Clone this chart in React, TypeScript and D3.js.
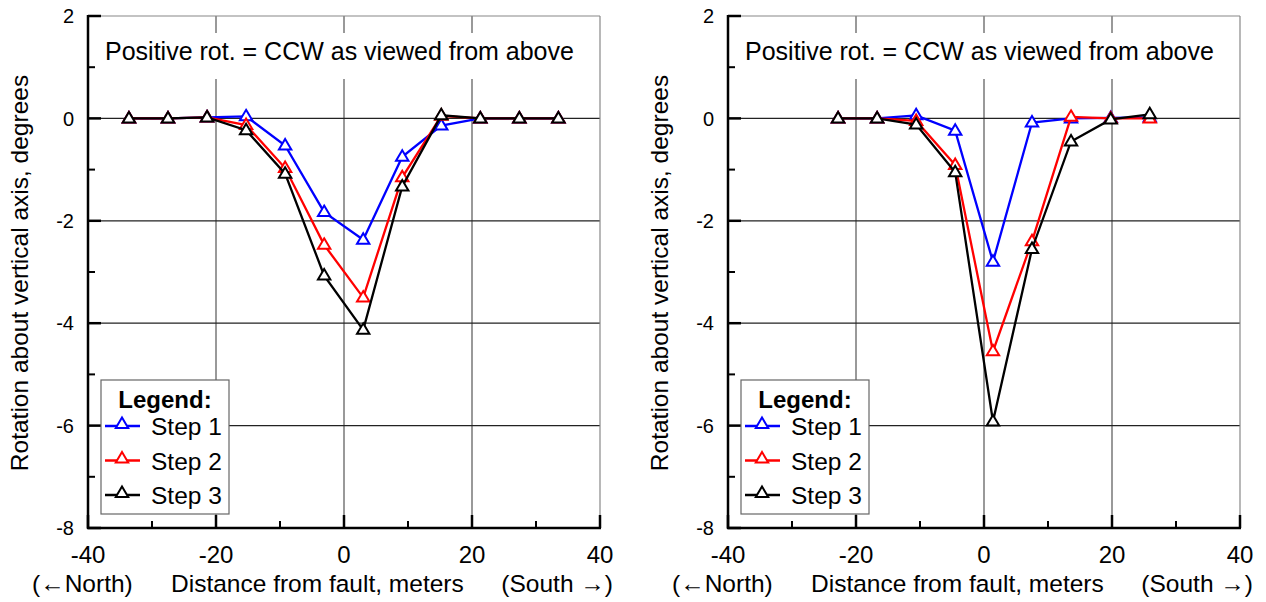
import React from 'react';
import * as d3 from 'd3';

// left panel
const xLeft = [-33.6, -27.5, -21.4, -15.3, -9.2, -3.1, 3.0, 9.1, 15.2, 21.3, 27.4, 33.5];
const leftStep1 = [0, 0, 0.02, 0.04, -0.53, -1.83, -2.37, -0.75, -0.14, 0, 0, 0];
const leftStep2 = [0, 0, 0.02, -0.13, -0.97, -2.47, -3.5, -1.15, 0.05, 0, 0, 0];
const leftStep3 = [0, 0, 0.02, -0.23, -1.08, -3.07, -4.13, -1.33, 0.06, 0, 0, 0];

// right panel
const xRight = [-22.8, -16.7, -10.6, -4.5, 1.4, 7.5, 13.6, 19.8, 25.9];
const rightStep1 = [0, 0, 0.06, -0.24, -2.8, -0.08, 0, 0.01, 0.02];
const rightStep2 = [0, 0, -0.05, -0.91, -4.55, -2.4, 0.03, 0, 0];
const rightStep3 = [0, 0, -0.12, -1.05, -5.92, -2.55, -0.45, -0.02, 0.08];

const seriesNames = ['Step 1', 'Step 2', 'Step 3'];
const seriesColors = ['#0000ff', '#ff0000', '#000000'];

const xTicks = [-40, -20, 0, 20, 40];
const yTicks = [2, 0, -2, -4, -6, -8];

const FONT = '"Liberation Sans", Arial, sans-serif';
const W = 512;
const H = 512;

const tri = 'M0,-6.5L6.2,4L-6.2,4Z';

const Panel = ({ ox, xs, series }) => {
  const x = d3.scaleLinear().domain([-40, 40]).range([0, W]);
  const y = d3.scaleLinear().domain([-8, 2]).range([H, 0]);
  const line = d3
    .line()
    .x((d) => x(d[0]))
    .y((d) => y(d[1]));
  const minorX = d3.range(-30, 40, 20);
  const minorY = d3.range(-7, 2, 2);

  return (
    <g transform={`translate(${ox},16)`}>
      {/* grid */}
      {[-20, 0, 20].map((t) => (
        <line key={'gx' + t} x1={x(t)} x2={x(t)} y1={0} y2={H} stroke="#555" strokeWidth="1.2" />
      ))}
      {[0, -2, -4, -6].map((t) => (
        <line key={'gy' + t} x1={0} x2={W} y1={y(t)} y2={y(t)} stroke="#222" strokeWidth="1.2" />
      ))}
      {/* note box */}
      <rect x={12} y={17} width={486} height={46} fill="#fff" />
      <text x={17} y={44} fontSize="25" fontFamily={FONT}>
        Positive rot. = CCW as viewed from above
      </text>
      {/* frame */}
      <line x1={0} x2={W} y1={0} y2={0} stroke="#888" strokeWidth="1.2" />
      <line x1={W} x2={W} y1={0} y2={H} stroke="#888" strokeWidth="1.2" />
      <line x1={0} x2={0} y1={-1} y2={H + 1} stroke="#000" strokeWidth="2.5" />
      <line x1={-1} x2={W + 1} y1={H} y2={H} stroke="#000" strokeWidth="2.5" />
      {/* ticks */}
      {yTicks.map((t) => (
        <line key={'ty' + t} x1={0} x2={13} y1={y(t)} y2={y(t)} stroke="#000" strokeWidth="2.5" />
      ))}
      {minorY.map((t) => (
        <line key={'my' + t} x1={0} x2={7} y1={y(t)} y2={y(t)} stroke="#000" strokeWidth="2" />
      ))}
      {xTicks.map((t) => (
        <line key={'tx' + t} x1={x(t)} x2={x(t)} y1={H} y2={H - 13} stroke="#000" strokeWidth="2.5" />
      ))}
      {minorX.map((t) => (
        <line key={'mx' + t} x1={x(t)} x2={x(t)} y1={H} y2={H - 7} stroke="#000" strokeWidth="2" />
      ))}
      {/* tick labels */}
      {yTicks.map((t) => (
        <text key={'ly' + t} x={-14} y={y(t)} dy="0.36em" textAnchor="end" fontSize="20" fontFamily={FONT}>
          {t}
        </text>
      ))}
      {xTicks.map((t) => (
        <text key={'lx' + t} x={x(t)} y={H + 35} textAnchor="middle" fontSize="24" fontFamily={FONT}>
          {t}
        </text>
      ))}
      <text x={-56} y={H + 64} fontSize="24.5" fontFamily={FONT}>(←North)</text>
      <text x={83} y={H + 64} fontSize="24.5" fontFamily={FONT}>
        Distance from fault, meters
      </text>
      <text x={525} y={H + 64} textAnchor="end" fontSize="24.5" fontFamily={FONT}>(South →)</text>
      <text
        transform={`translate(-60,${H / 2 + 1}) rotate(-90)`}
        textAnchor="middle"
        fontSize="24.5"
        fontFamily={FONT}
      >
        Rotation about vertical axis, degrees
      </text>
      {/* series */}
      {series.map((vals, i) => {
        const pts = xs.map((xv, j) => [xv, vals[j]]);
        return (
          <g key={'s' + i}>
            <path d={line(pts)} fill="none" stroke={seriesColors[i]} strokeWidth="2.3" />
            {pts.map((p, j) => (
              <path
                key={j}
                d={tri}
                transform={`translate(${x(p[0])},${y(p[1])})`}
                fill="#fff"
                stroke={seriesColors[i]}
                strokeWidth="2"
              />
            ))}
          </g>
        );
      })}
      {/* legend */}
      <g transform="translate(13,364)">
        <rect x={0} y={0} width={128} height={134} fill="#fff" stroke="#666" strokeWidth="1.2" />
        <text x={64} y={28} textAnchor="middle" fontSize="24" fontWeight="bold" fontFamily={FONT}>
          Legend:
        </text>
        {seriesNames.map((n, i) => (
          <g key={n} transform={`translate(0,${46 + i * 34.5})`}>
            <line x1={4} x2={39} y1={0} y2={0} stroke={seriesColors[i]} strokeWidth="2.3" />
            <path d={tri} transform="translate(21,-2)" fill="#fff" stroke={seriesColors[i]} strokeWidth="2" />
            <text x={50} y={9} fontSize="24.5" fontFamily={FONT}>
              {n}
            </text>
          </g>
        ))}
      </g>
    </g>
  );
};

export default function App() {
  return (
    <svg width={1266} height={602} style={{ display: 'block', position: 'absolute', left: 0, top: 0 }}>
      <rect width={1266} height={602} fill="#fff" />
      <Panel ox={88} xs={xLeft} series={[leftStep1, leftStep2, leftStep3]} />
      <Panel ox={728} xs={xRight} series={[rightStep1, rightStep2, rightStep3]} />
    </svg>
  );
}
